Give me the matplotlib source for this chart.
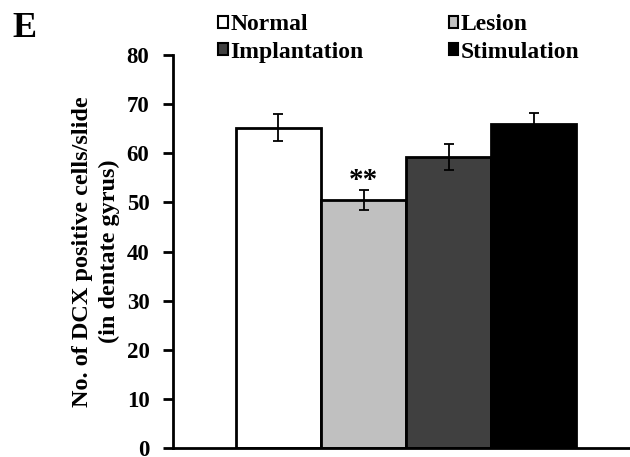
import numpy as np
import matplotlib.pyplot as plt
from matplotlib.patches import Patch

groups = ['Normal', 'Lesion', 'Implantation', 'Stimulation']
means = [65.2, 50.5, 59.2, 66.0]
errors = [2.7, 2.0, 2.6, 2.2]
colors = ['#ffffff', '#c0c0c0', '#404040', '#000000']
ytick_vals = [0, 10, 20, 30, 40, 50, 60, 70, 80]

plt.rcParams['font.family'] = ['Liberation Serif', 'DejaVu Serif']
plt.rcParams['font.weight'] = 'bold'

fig = plt.figure(figsize=(6.3, 4.57), dpi=100)
ax = fig.add_axes([0.2746, 0.0197, 0.7254, 0.8599])

x = np.arange(len(groups))
ax.bar(x, means, width=1.0, color=colors, edgecolor='black', linewidth=2.0, zorder=2)
ax.errorbar(x, means, yerr=errors, fmt='none', ecolor='black', elinewidth=1.3,
            capsize=3.5, capthick=1.3, zorder=3)

# significance mark over lesion
ax.text(x[1], means[1] + errors[1] + 2.0, '**', ha='center', va='center',
        fontsize=21, fontweight='bold')

ax.set_xlim(-1.241, 4.135)
ax.set_ylim(0, 80)
ax.set_yticks(ytick_vals)
ax.set_xticks([])
ax.tick_params(axis='y', length=7, width=2.0, labelsize=16.5, pad=10)
for lab in ax.get_yticklabels():
    lab.set_fontweight('bold')
for s in ['top', 'right']:
    ax.spines[s].set_visible(False)
ax.spines['left'].set_linewidth(2.0)
ax.spines['bottom'].set_linewidth(2.0)

ax.set_ylabel('No. of DCX positive cells/slide\n(in dentate gyrus)',
              fontsize=17.5, fontweight='bold', labelpad=5, linespacing=1.35)

# legend fills column-wise, so order it to read row by row
order = [0, 2, 1, 3]
handles = [Patch(facecolor=colors[i], edgecolor='black', linewidth=1.5) for i in order]
labels = [groups[i] for i in order]
fig.legend(handles, labels, loc='upper left', bbox_to_anchor=(0.346, 0.969),
           ncol=2, frameon=False, fontsize=17, handlelength=0.42, handleheight=0.42,
           handletextpad=0.1, columnspacing=3.6, labelspacing=0.28,
           borderaxespad=0, borderpad=0)

fig.text(0.019, 0.919, 'E', fontsize=26, fontweight='bold', ha='left', va='baseline')

fig.savefig('out.png', dpi=100, facecolor='white')
